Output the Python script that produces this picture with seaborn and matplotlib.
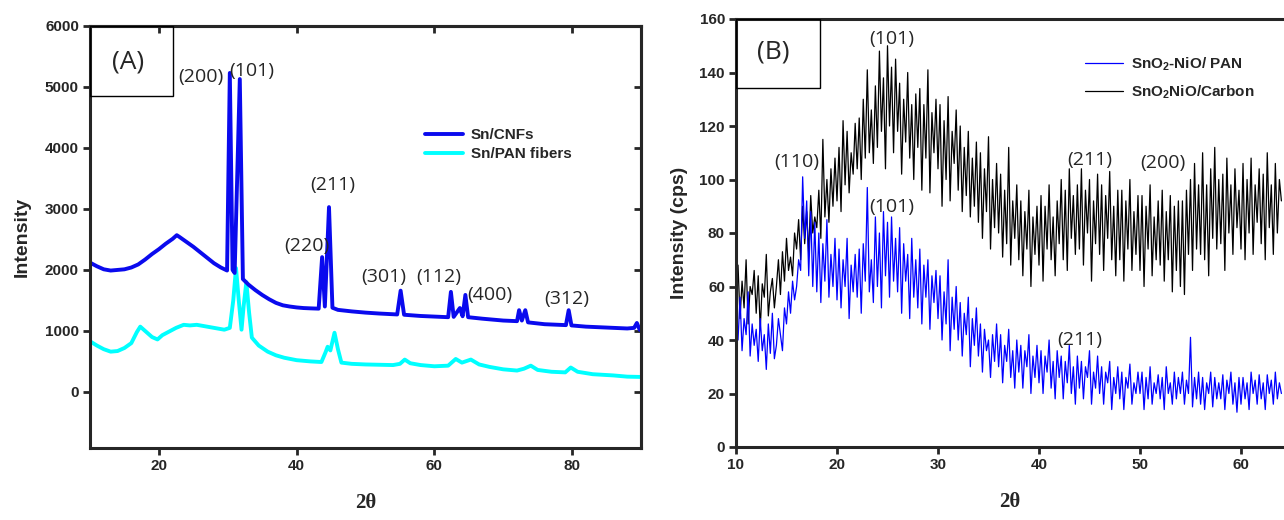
import numpy as np
import pandas as pd
import seaborn as sns
import matplotlib.pyplot as plt
from matplotlib.patches import Rectangle

# ---- panel A : Sn/CNFs and Sn/PAN fibers (2theta, intensity) ----
cnf_2theta = [10.0, 11.0, 12.0, 13.0, 14.0, 15.0, 16.0, 17.0, 18.0, 19.0, 20.0, 21.0, 22.0, 22.6,
              23.0, 24.0, 25.0, 26.0, 27.0, 28.0, 29.0, 29.9, 30.3, 30.7, 31.0, 31.75, 32.2, 33.0,
              34.0, 35.0, 36.0, 37.0, 38.0, 39.0, 40.0, 41.0, 42.0, 43.2, 43.7, 44.1, 44.7, 45.2,
              46.0, 48.0, 50.0, 52.0, 54.6, 55.1, 55.6, 58.0, 60.0, 62.0, 62.4, 62.8, 63.7, 64.1,
              64.5, 64.9, 67.0, 70.0, 72.0, 72.3, 72.7, 73.2, 73.6, 76.0, 79.1, 79.5, 79.9, 82.0,
              85.0, 88.0, 89.0, 89.4, 89.8, 90.0]
cnf_int = [2120, 2060, 2010, 1990, 2000, 2010, 2040, 2090, 2170, 2260, 2340, 2430, 2510, 2570,
           2540, 2460, 2380, 2290, 2200, 2110, 2040, 1990, 5230, 2000, 1950, 5130, 1850, 1760,
           1670, 1590, 1520, 1460, 1420, 1400, 1385, 1375, 1370, 1365, 2210, 1400, 3030, 1380,
           1345, 1320, 1300, 1285, 1270, 1660, 1265, 1245, 1235, 1225, 1640, 1230, 1375, 1240,
           1590, 1225, 1200, 1170, 1160, 1340, 1170, 1340, 1140, 1110, 1095, 1340, 1090, 1070,
           1055, 1040, 1050, 1130, 1020, 1010]

pan_2theta = [10.0, 11.0, 12.0, 13.0, 14.0, 15.0, 16.0, 16.8, 17.3, 18.0, 19.0, 19.8, 20.5, 21.5,
              22.5, 23.6, 24.5, 25.5, 26.5, 27.5, 28.5, 29.5, 30.3, 30.8, 31.2, 31.6, 32.0, 32.3,
              32.7, 33.1, 33.5, 34.5, 35.8, 37.0, 38.2, 40.0, 42.0, 43.6, 44.2, 44.5, 44.9, 45.5,
              46.0, 46.5, 48.0, 50.0, 52.0, 54.0, 55.0, 55.7, 56.5, 58.0, 60.0, 62.0, 63.1, 64.0,
              65.3, 66.5, 68.0, 70.0, 72.0, 73.0, 74.0, 75.0, 77.0, 79.0, 79.8, 80.8, 83.0, 86.0,
              88.0, 90.0]
pan_int = [830, 760, 700, 660, 670, 720, 800, 980, 1070, 1000, 900, 860, 930, 990,
           1050, 1100, 1090, 1100, 1080, 1060, 1040, 1020, 1050, 1500, 2030, 1500, 1020, 1400,
           1800, 1300, 890, 760, 660, 600, 560, 520, 500, 490, 650, 740, 680, 970,
           700, 480, 460, 450, 445, 440, 460, 530, 470, 440, 420, 430, 540, 480,
           530, 450, 410, 370, 350, 380, 430, 360, 330, 320, 400, 330, 290, 270,
           250, 245]

labels_a = ["(200)", "(101)", "(211)", "(220)", "(301)", "(112)", "(400)", "(312)"]
labels_a_x = [26.1, 33.5, 45.2, 41.5, 52.6, 60.7, 68.1, 79.2]
labels_a_y = [5160, 5260, 3400, 2400, 1890, 1890, 1595, 1530]

# ---- panel B : scan from 10 deg in 0.2 deg steps ----
b_start, b_step = 10.0, 0.2
carbon_int = [
    55, 68, 48, 62, 52, 70, 46, 60, 57, 66,
    50, 64, 44, 61, 56, 72, 49, 58, 63, 52,
    60, 70, 57, 73, 62, 78, 66, 71, 64, 80,
    74, 85, 70, 90, 76, 88, 72, 94, 80, 86,
    82, 96, 78, 115, 86, 100, 84, 104, 90, 108,
    92, 112, 88, 122, 98, 118, 95, 110, 102, 121,
    104, 123, 100, 130, 108, 141, 110, 126, 106, 135,
    112, 148, 118, 138, 104, 150, 120, 142, 110, 145,
    118, 136, 102, 130, 114, 140, 108, 128, 100, 132,
    112, 134, 96, 128, 108, 141, 95, 125, 110, 130,
    104, 128, 90, 122, 100, 131, 92, 118, 106, 126,
    96, 120, 88, 112, 94, 118, 86, 108, 90, 114,
    84, 110, 78, 104, 88, 116, 74, 100, 82, 106,
    80, 102, 71, 96, 76, 112, 68, 92, 78, 98,
    70, 92, 64, 88, 74, 96, 60, 86, 72, 90,
    68, 94, 62, 90, 74, 98, 70, 86, 64, 92,
    76, 100, 70, 96, 66, 104, 78, 94, 72, 98,
    74, 104, 68, 96, 80, 100, 62, 92, 76, 102,
    72, 98, 66, 94, 78, 103, 70, 90, 64, 96,
    70, 96, 62, 92, 74, 100, 66, 88, 72, 94,
    66, 94, 60, 90, 74, 98, 64, 86, 70, 92,
    68, 96, 62, 88, 70, 94, 58, 90, 66, 92,
    60, 92, 57, 96, 72, 100, 66, 106, 74, 98,
    72, 110, 70, 98, 64, 104, 78, 112, 74, 100,
    76, 102, 66, 108, 80, 98, 72, 104, 82, 96,
    74, 106, 70, 100, 80, 108, 72, 98, 84, 104,
    76, 102, 70, 110, 82, 98, 72, 106, 80, 100,
    92]
nio_pan_int = [
    50, 40, 56, 36, 48, 42, 58, 34, 46, 38,
    44, 32, 48, 36, 42, 29, 46, 35, 50, 33,
    38, 48, 42, 36, 52, 46, 58, 50, 62, 55,
    60, 70, 66, 101, 78, 92, 64, 88, 60, 84,
    58, 80, 54, 76, 62, 85, 56, 72, 60, 78,
    55, 74, 52, 70, 60, 78, 48, 68, 58, 72,
    56, 74, 50, 76, 62, 97, 58, 70, 54, 86,
    60, 80, 52, 88, 64, 84, 56, 86, 62, 78,
    58, 82, 50, 76, 62, 72, 48, 78, 56, 70,
    52, 74, 46, 68, 56, 70, 44, 64, 54, 66,
    48, 64, 40, 58, 46, 70, 36, 56, 44, 60,
    40, 54, 34, 50, 42, 56, 30, 48, 38, 52,
    34, 46, 28, 44, 36, 40, 26, 42, 32, 46,
    30, 42, 24, 38, 32, 44, 26, 36, 22, 40,
    28, 38, 22, 36, 30, 42, 20, 34, 26, 38,
    24, 36, 20, 34, 28, 40, 22, 32, 18, 36,
    26, 34, 18, 32, 24, 38, 20, 30, 16, 34,
    22, 32, 18, 30, 26, 36, 16, 28, 22, 34,
    20, 30, 16, 28, 24, 32, 14, 26, 20, 30,
    18, 28, 14, 26, 22, 31, 16, 24, 20, 28,
    20, 28, 14, 26, 18, 30, 16, 24, 20, 27,
    18, 26, 14, 30, 20, 24, 16, 28, 18, 26,
    20, 28, 16, 25, 20, 41, 15, 26, 18, 28,
    16, 26, 14, 24, 20, 28, 15, 26, 18, 24,
    18, 27, 14, 25, 20, 28, 16, 24, 13, 26,
    16, 26, 18, 24, 14, 28, 20, 25, 16, 27,
    18, 24, 14, 27, 20, 25, 16, 28, 18, 24,
    20]

labels_b = ["(101)", "(110)", "(101)", "(211)", "(200)", "(211)"]
labels_b_x = [25.4, 16.0, 25.4, 45.0, 52.3, 44.0]
labels_b_y = [152.5, 106.5, 89.7, 107.3, 106.2, 40.0]

sns.set_style("ticks")
plt.rcParams["font.family"] = ["Liberation Sans", "DejaVu Sans"]
plt.rcParams["mathtext.fontset"] = "custom"
plt.rcParams["mathtext.rm"] = "Liberation Sans:bold"
plt.rcParams["mathtext.bf"] = "Liberation Sans:bold"

fig = plt.figure(figsize=(12.84, 5.2), dpi=100)
ax1 = fig.add_axes([90 / 1284, 72 / 520, 551 / 1284, 422 / 520])
ax2 = fig.add_axes([736 / 1284, 73 / 520, 548 / 1284, 428 / 520])

df_a1 = pd.DataFrame({"x": cnf_2theta, "y": cnf_int})
df_a2 = pd.DataFrame({"x": pan_2theta, "y": pan_int})
sns.lineplot(data=df_a2, x="x", y="y", ax=ax1, color="#00ffff", lw=2.8,
             sort=False, estimator=None, label="Sn/PAN fibers")
sns.lineplot(data=df_a1, x="x", y="y", ax=ax1, color="#0a0aee", lw=2.8,
             sort=False, estimator=None, label="Sn/CNFs")

theta_b = np.round(b_start + b_step * np.arange(len(carbon_int)), 2)
df_b = pd.DataFrame({"x": theta_b, "carbon": carbon_int, "pan": nio_pan_int})
sns.lineplot(data=df_b, x="x", y="carbon", ax=ax2, color="black", lw=0.9,
             sort=False, estimator=None, label=r"SnO$_\mathbf{2}$NiO/Carbon")
sns.lineplot(data=df_b, x="x", y="pan", ax=ax2, color="#0000ff", lw=0.9,
             sort=False, estimator=None, label=r"SnO$_\mathbf{2}$-NiO/ PAN")

ann_font = dict(family=["Open Sans", "DejaVu Sans"], fontsize=14, ha="center", va="center")

# panel A styling
ax1.set_xlim(10, 90)
ax1.set_ylim(-920, 6000)
ax1.set_xticks([20, 40, 60, 80])
ax1.set_yticks(range(0, 6001, 1000))
for s in ["left", "bottom", "top", "right"]:
    ax1.spines[s].set_linewidth(2.2)
    ax1.spines[s].set_visible(True)
ax1.tick_params(direction="out", length=5, width=2, labelsize=11, pad=3)
for lab in ax1.get_xticklabels() + ax1.get_yticklabels():
    lab.set_fontweight("bold")
top1 = ax1.secondary_xaxis("top")
top1.set_xticks([20, 40, 60, 80])
top1.tick_params(direction="in", length=5, width=2, labeltop=False)
top1.spines["top"].set_linewidth(2.2)
right1 = ax1.secondary_yaxis("right")
right1.set_yticks(range(0, 6001, 1000))
right1.tick_params(direction="in", length=5, width=2, labelright=False)
right1.spines["right"].set_linewidth(2.2)
ax1.set_ylabel("Intensity", fontsize=14, fontweight="bold", labelpad=10)
ax1.set_xlabel("2θ", fontsize=15, fontweight="bold", labelpad=14,
               family="Liberation Serif")
ax1.add_patch(Rectangle((0, 0.834), 0.151, 0.166, transform=ax1.transAxes,
                        fill=False, lw=1, ec="black", zorder=5))
ax1.text(0.069, 0.915, "(A)", transform=ax1.transAxes, family=["Open Sans"],
         fontsize=19, ha="center", va="center")
for t, x, y in zip(labels_a, labels_a_x, labels_a_y):
    ax1.text(x, y, t, **ann_font)
h, l = ax1.get_legend_handles_labels()
ax1.legend(h[::-1], l[::-1], loc="upper left", bbox_to_anchor=(0.608, 0.758),
           frameon=False, borderpad=0, borderaxespad=0, handlelength=2.5,
           handletextpad=0.5, labelspacing=0.35,
           prop=dict(family="Liberation Sans", weight="bold", size=11))

# panel B styling
ax2.set_xlim(10, 10 + 548 / 10.1)
ax2.set_ylim(0, 160)
ax2.set_xticks(range(10, 61, 10))
ax2.set_yticks(range(0, 161, 20))
ax2.spines["right"].set_visible(False)
for s in ["left", "bottom", "top"]:
    ax2.spines[s].set_linewidth(2.2)
    ax2.spines[s].set_visible(True)
ax2.tick_params(direction="out", length=5, width=2, labelsize=11, pad=3)
for lab in ax2.get_xticklabels() + ax2.get_yticklabels():
    lab.set_fontweight("bold")
ax2.set_ylabel("Intensity (cps)", fontsize=14, fontweight="bold", labelpad=8)
ax2.set_xlabel("2θ", fontsize=15, fontweight="bold", labelpad=14,
               family="Liberation Serif")
ax2.add_patch(Rectangle((0, 0.839), 0.153, 0.161, transform=ax2.transAxes,
                        fill=False, lw=1, ec="black", zorder=5))
ax2.text(0.068, 0.923, "(B)", transform=ax2.transAxes, family=["Open Sans"],
         fontsize=19, ha="center", va="center")
for t, x, y in zip(labels_b, labels_b_x, labels_b_y):
    ax2.text(x, y, t, **ann_font)
h, l = ax2.get_legend_handles_labels()
ax2.legend(h[::-1], l[::-1], loc="upper left", bbox_to_anchor=(0.637, 0.915),
           frameon=False, borderpad=0, borderaxespad=0, handlelength=2.5,
           handletextpad=0.5, labelspacing=0.7,
           prop=dict(family="Liberation Sans", weight="bold", size=11))

fig.savefig("out.png", dpi=100)
